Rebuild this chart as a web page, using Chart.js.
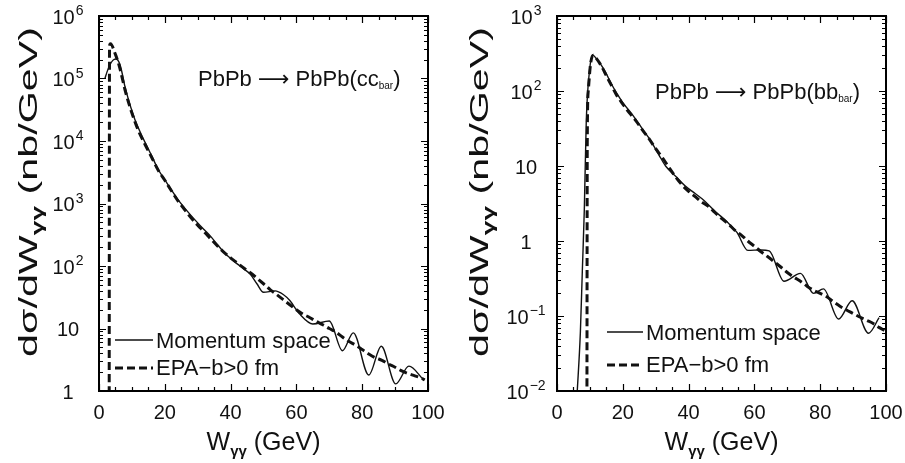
<!DOCTYPE html>
<html>
<head>
<meta charset="utf-8">
<script src="https://cdn.jsdelivr.net/npm/chart.js@4/dist/chart.umd.min.js"></script>
<style>
  html, body { margin: 0; padding: 0; background: #fff; }
  #wrap { position: relative; width: 905px; height: 463px; }
  canvas { position: absolute; top: 0; }
</style>
</head>
<body>
<div id="wrap">
  <canvas id="cc" width="452" height="463" style="left:0"></canvas>
  <canvas id="bb" width="453" height="463" style="left:452px"></canvas>
</div>
<script>
// W_gamma-gamma axis ticks (GeV)
const wTicks = [0, 20, 40, 60, 80, 100];
// y axis decades (powers of ten) shown on each panel
const ccDecades = [0, 1, 2, 3, 4, 5, 6];
const bbDecades = [-2, -1, 0, 1, 2, 3];

// PbPb -> PbPb(c cbar), momentum space (solid)
const ccMomW = [1.8, 2.5, 3.3, 4.2, 5.1, 6.4, 7.9, 9, 10.9, 12, 14, 16, 18, 20, 22, 24, 26, 28, 30, 32, 34, 36, 38, 40, 42, 44, 46, 48, 50, 53.5, 56, 58, 61, 65, 70, 74, 77.3, 82, 85.8, 90.2, 94.2, 98.7];
const ccMomSigma = [1.0e5, 1.3e5, 1.65e5, 1.95e5, 2.05e5, 1.66e5, 7.4e4, 4.5e4, 2.2e4, 1.6e4, 9.5e3, 5.8e3, 3.5e3, 2.4e3, 1.65e3, 1.15e3, 850, 640, 490, 380, 295, 220, 165, 132, 108, 90, 74, 52, 38, 40, 35, 28, 17, 11.8, 13.2, 4.4, 8.5, 1.8, 5.2, 1.3, 2.5, 1.5];
// PbPb -> PbPb(c cbar), EPA b>0 fm (dashed)
const ccEpaW = [3.1, 3.2, 3.5, 4.9, 6, 7, 7.9, 10, 12, 14, 16, 18, 20, 22, 24, 26, 28, 30, 32, 34, 36, 38, 40, 42, 44, 46, 48, 50, 52, 54, 56, 58, 60, 62, 64, 66, 68, 70, 72, 74, 76, 78, 80, 82, 84, 86, 88, 90, 92, 94, 96, 98, 99];
const ccEpaSigma = [0.9, 3.3e5, 3.6e5, 2.5e5, 1.7e5, 1.05e5, 6.6e4, 2.8e4, 1.45e4, 8.8e3, 5.5e3, 3.4e3, 2.35e3, 1.6e3, 1.1e3, 800, 590, 450, 350, 270, 210, 165, 135, 112, 93, 78, 64, 52, 42, 35, 29, 24, 20, 17, 15, 13, 11.5, 10, 8.8, 7.3, 6.2, 5.4, 4.6, 3.9, 3.4, 3.1, 2.7, 2.4, 2.1, 1.9, 1.75, 1.6, 1.5];

// PbPb -> PbPb(b bbar), momentum space (solid)
const bbMomW = [6.1, 7.1, 7.7, 8.3, 8.9, 9.9, 10.9, 12, 13.5, 14.7, 16.5, 18.2, 20, 23.3, 26, 28.4, 31, 33, 36.5, 39, 42, 44.6, 48, 51.7, 54.7, 58, 62, 64.5, 69, 74, 78, 81, 85.6, 89.7, 94.7, 97.9];
const bbMomSigma = [0.009, 0.06, 0.4, 2.6, 40, 190, 300, 270, 220, 180, 125, 93, 70, 46, 31, 22, 14, 10, 7.0, 5.4, 4.3, 3.5, 2.5, 1.8, 1.3, 0.75, 0.76, 0.74, 0.29, 0.37, 0.2, 0.23, 0.091, 0.16, 0.059, 0.095];
// PbPb -> PbPb(b bbar), EPA b>0 fm (dashed)
const bbEpaW = [9.1, 9.2, 9.5, 10.2, 11, 12, 13.5, 15, 16.5, 18, 20, 22, 24, 26, 28, 30, 32, 34, 36, 38, 40, 42, 44, 46, 48, 50, 52, 54, 56, 58, 60, 62, 64, 66, 68, 70, 72, 74, 76, 78, 80, 82, 84, 86, 88, 90, 92, 94, 96, 98, 99.5];
const bbEpaSigma = [0.008, 20, 100, 230, 300, 270, 215, 160, 120, 90, 67, 51, 40, 30, 23, 17, 13, 9.6, 7.2, 5.6, 4.6, 3.9, 3.3, 2.9, 2.4, 2.0, 1.7, 1.4, 1.2, 1.0, 0.85, 0.72, 0.62, 0.53, 0.45, 0.38, 0.33, 0.29, 0.25, 0.22, 0.2, 0.18, 0.155, 0.135, 0.12, 0.108, 0.097, 0.088, 0.08, 0.07, 0.064];

const seriesNames = ['Momentum space', 'EPA\u2212b>0 fm'];

const FONT = "'Liberation Sans', Arial, 'DejaVu Sans', sans-serif";
const INK = '#111';

function toPoints(xs, ys) {
  return xs.map((x, i) => ({ x: x, y: ys[i] }));
}

function setFont(ctx, size, weight) {
  ctx.font = (weight || '') + ' ' + size + 'px ' + FONT;
}

// draw a run of text pieces: [text, size, dy, weight]
function measureRuns(ctx, parts) {
  let w = 0;
  parts.forEach(p => { setFont(ctx, p[1], p[3]); w += ctx.measureText(p[0]).width; });
  return w;
}
function drawRuns(ctx, parts, x, y, align) {
  let cx = align === 'center' ? x - measureRuns(ctx, parts) / 2 : x;
  parts.forEach(p => {
    setFont(ctx, p[1], p[3]);
    ctx.fillText(p[0], cx, y + (p[2] || 0));
    cx += ctx.measureText(p[0]).width;
  });
}

const pawFrame = {
  id: 'pawFrame',
  afterDraw(chart) {
    const o = chart.options.plugins.pawFrame;
    const { ctx, chartArea: a, scales: { x, y } } = chart;
    ctx.save();
    ctx.fillStyle = INK;
    ctx.strokeStyle = '#000';
    ctx.textBaseline = 'alphabetic';
    ctx.textAlign = 'left';

    // inward ticks on all four sides
    ctx.lineWidth = 1.2;
    ctx.beginPath();
    for (let v = wTicks[0]; v <= wTicks[wTicks.length - 1]; v += 5) {
      const px = Math.round(x.getPixelForValue(v)) + 0.5;
      const len = wTicks.includes(v) ? 7 : 4;
      ctx.moveTo(px, a.bottom); ctx.lineTo(px, a.bottom - len);
      ctx.moveTo(px, a.top); ctx.lineTo(px, a.top + len);
    }
    const dec = o.decades;
    for (let e = dec[0]; e <= dec[dec.length - 1]; e++) {
      for (let m = 1; m <= 9; m++) {
        if (e === dec[dec.length - 1] && m > 1) break;
        const py = Math.round(y.getPixelForValue(m * Math.pow(10, e))) + 0.5;
        const len = m === 1 ? 7 : 4;
        ctx.moveTo(a.left, py); ctx.lineTo(a.left + len, py);
        ctx.moveTo(a.right, py); ctx.lineTo(a.right - len, py);
      }
    }
    ctx.stroke();

    // frame
    ctx.lineWidth = 2;
    ctx.strokeRect(a.left, a.top, a.right - a.left, a.bottom - a.top);

    // x tick labels
    wTicks.forEach(v => {
      drawRuns(ctx, [[String(v), 20]], x.getPixelForValue(v), a.bottom + 27.5, 'center');
    });

    // y tick labels 1, 10, 10^n
    dec.forEach(e => {
      const py = y.getPixelForValue(Math.pow(10, e));
      const base = e === 0 ? '1' : '10';
      const exp = (e === 0 || e === 1) ? '' : (e < 0 ? '\u2212' + (-e) : String(e));
      setFont(ctx, 20); const wb = ctx.measureText(base).width;
      setFont(ctx, 14); const we = exp ? ctx.measureText(exp).width + 1 : 0;
      const x0 = a.left - 31 - (wb + we) / 2;
      setFont(ctx, 20); ctx.fillText(base, x0, py + 7.5);
      if (exp) { setFont(ctx, 14); ctx.fillText(exp, x0 + wb + 1, py - 1); }
    });

    // x title
    drawRuns(ctx, [['W', 25], ['\u03b3\u03b3', 15, 6, 'bold'], [' (GeV)', 25]],
      (a.left + a.right) / 2, a.bottom + 59, 'center');

    // y title (rotated, stretched along its length)
    const yParts = [['d\u03c3/dW', 25], ['\u03b3\u03b3', 16, 6, 'bold'], [' (nb/GeV)', 25]];
    ctx.save();
    ctx.translate(o.yTitleX, 192);
    ctx.rotate(-Math.PI / 2);
    const tw = measureRuns(ctx, yParts);
    ctx.scale(330 / tw, 1);
    drawRuns(ctx, yParts, 0, 0, 'center');
    ctx.restore();

    // process label
    drawRuns(ctx, [[o.process[0], 22], [o.process[1], 10, 3], [o.process[2], 22]],
      o.processAt[0], o.processAt[1], 'left');

    // legend
    const lg = o.legend;
    ctx.strokeStyle = INK;
    ctx.lineWidth = 1.4;
    ctx.beginPath(); ctx.moveTo(lg.x0, lg.y1); ctx.lineTo(lg.x1, lg.y1); ctx.stroke();
    ctx.lineWidth = 3;
    ctx.setLineDash([8, 4]);
    ctx.beginPath(); ctx.moveTo(lg.x0, lg.y2); ctx.lineTo(lg.x1, lg.y2); ctx.stroke();
    ctx.setLineDash([]);
    drawRuns(ctx, [[seriesNames[0], 22]], lg.x1 + 3, lg.y1 + 8, 'left');
    drawRuns(ctx, [[seriesNames[1], 22]], lg.x1 + 3, lg.y2 + 7, 'left');

    ctx.restore();
  }
};

function makeChart(id, mom, epa, yMin, yMax, padding, frameOpts) {
  return new Chart(document.getElementById(id), {
    type: 'line',
    data: {
      datasets: [
        {
          label: seriesNames[0],
          data: mom,
          borderColor: INK,
          borderWidth: 1.4,
          pointRadius: 0,
          cubicInterpolationMode: 'monotone',
          fill: false,
          clip: 0
        },
        {
          label: seriesNames[1],
          data: epa,
          borderColor: INK,
          borderWidth: 3,
          borderDash: [8, 4],
          pointRadius: 0,
          cubicInterpolationMode: 'monotone',
          fill: false,
          clip: 0
        }
      ]
    },
    options: {
      responsive: false,
      animation: false,
      devicePixelRatio: 1,
      layout: { padding: padding },
      scales: {
        x: { type: 'linear', min: 0, max: 100, display: false },
        y: { type: 'logarithmic', min: yMin, max: yMax, display: false }
      },
      plugins: {
        legend: { display: false },
        tooltip: { enabled: false },
        pawFrame: frameOpts
      }
    },
    plugins: [pawFrame]
  });
}

makeChart('cc', toPoints(ccMomW, ccMomSigma), toPoints(ccEpaW, ccEpaSigma),
  1, 1e6,
  { left: 99, right: 24, top: 16, bottom: 72 },
  {
    decades: ccDecades,
    yTitleX: 37,
    process: ['PbPb \u27f6 PbPb(cc', 'bar', ')'],
    processAt: [198, 86],
    legend: { x0: 115, x1: 153, y1: 340, y2: 368 }
  });

makeChart('bb', toPoints(bbMomW, bbMomSigma), toPoints(bbEpaW, bbEpaSigma),
  0.01, 1000,
  { left: 105, right: 19, top: 16, bottom: 72 },
  {
    decades: bbDecades,
    yTitleX: 36,
    process: ['PbPb \u27f6 PbPb(bb', 'bar', ')'],
    processAt: [203, 99],
    legend: { x0: 155, x1: 191, y1: 332, y2: 365 }
  });
</script>
</body>
</html>
